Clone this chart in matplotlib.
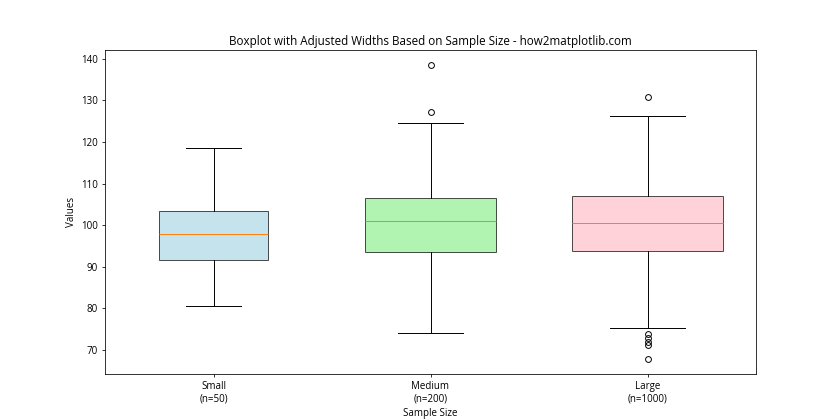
import matplotlib
matplotlib.use("Agg")
import matplotlib.pyplot as plt

plt.rcParams['font.family'] = ['Open Sans', 'DejaVu Sans']

labels = ["Small\n(n=50)", "Medium\n(n=200)", "Large\n(n=1000)"]
whislo = [80.47, 74.0, 75.17]
q1 = [91.55, 93.5, 93.8]
med = [97.82, 100.95, 100.47]
q3 = [103.37, 106.5, 106.98]
whishi = [118.55, 124.65, 126.26]
fliers = [[], [138.46, 127.13], [130.84, 73.72, 72.9, 71.94, 71.07, 67.8]]
widths = [0.5, 0.6, 0.7]
colors = ['lightblue', 'lightgreen', 'pink']

stats = []
for i in range(len(labels)):
    stats.append(dict(label=labels[i], whislo=whislo[i], q1=q1[i], med=med[i],
                      q3=q3[i], whishi=whishi[i], fliers=fliers[i]))

fig, ax = plt.subplots(figsize=(12, 6), dpi=70)
bp = ax.bxp(stats, widths=widths, patch_artist=True)
for patch, c in zip(bp['boxes'], colors):
    patch.set_facecolor(c)
    patch.set_alpha(0.7)

ax.set_title("Boxplot with Adjusted Widths Based on Sample Size - how2matplotlib.com", fontsize=12)
ax.set_xlabel("Sample Size")
ax.set_ylabel("Values")
fig.savefig("out.png", dpi=70)
